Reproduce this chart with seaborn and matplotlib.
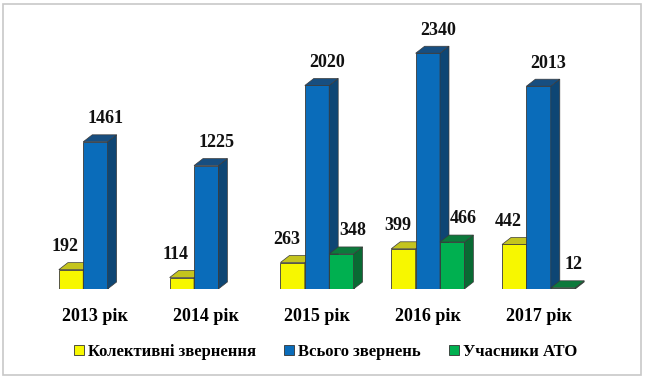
import pandas as pd
import matplotlib.pyplot as plt
import seaborn as sns
import numpy as np
from matplotlib.patches import Polygon, Patch, Rectangle
from matplotlib.colors import to_hex

# ---- data ----
years = ['2013 рік', '2014 рік', '2015 рік', '2016 рік', '2017 рік']
series = ['Колективні звернення', 'Всього звернень', 'Учасники АТО']
collective = [192, 114, 263, 399, 442]
total = [1461, 1225, 2020, 2340, 2013]
ato = [np.nan, np.nan, 348, 466, 12]

front = {'Колективні звернення': '#F7F700', 'Всього звернень': '#0A6CBA', 'Учасники АТО': '#00B050'}
top_c = {'Колективні звернення': '#C4C41E', 'Всього звернень': '#174E80', 'Учасники АТО': '#0C7A3C'}
side_c = {'Колективні звернення': '#A9A900', 'Всього звернень': '#0E4674', 'Учасники АТО': '#096A33'}

rows = []
for name, vals in zip(series, [collective, total, ato]):
    for y, v in zip(years, vals):
        rows.append({'year': y, 'series': name, 'value': v})
df = pd.DataFrame(rows).dropna()

plt.rcParams['font.family'] = ['Liberation Serif', 'DejaVu Serif']
plt.rcParams['font.weight'] = 'bold'

W, H = 645, 378
fig = plt.figure(figsize=(W / 100, H / 100), dpi=100)
ax_l, ax_b, ax_w, ax_h = 40 / W, (H - 289) / H, 554 / W, 269 / H
ax = fig.add_axes([ax_l, ax_b, ax_w, ax_h])

sns.barplot(data=df, x='year', y='value', hue='series', order=years, hue_order=series,
            palette=front, width=0.66, saturation=1, errorbar=None,
            edgecolor='#3a3a3a', linewidth=0.6, ax=ax)
ax.legend().remove()

ax.set_xlim(-0.5, 4.5)
ax.set_ylim(0, 2670)

# pixel -> data conversion for the 3D depth
px_x = 5 / 554
px_y = 2670 / 269
dx, dy = 9 * px_x, 7 * px_y
lab_off = {'Колективні звернення': -6 * px_x, 'Всього звернень': 10 * px_x, 'Учасники АТО': 11 * px_x}
zord = {'Колективні звернення': 2, 'Всього звернень': 3, 'Учасники АТО': 4}

def which_series(fc):
    h = to_hex(fc).lower()
    for k, c in front.items():
        if c.lower() == h:
            return k
    return None

for p in list(ax.patches):
    s = which_series(p.get_facecolor())
    hgt = p.get_height()
    if s is None or not np.isfinite(hgt) or hgt <= 0:
        continue
    x0, w = p.get_x(), p.get_width()
    x1 = x0 + w
    z = zord[s]
    p.set_zorder(z)
    top = Polygon([(x0, hgt), (x1, hgt), (x1 + dx, hgt + dy), (x0 + dx, hgt + dy)],
                  closed=True, facecolor=top_c[s], edgecolor='#3a3a3a', lw=0.5, zorder=z)
    side = Polygon([(x1, 0), (x1 + dx, dy), (x1 + dx, hgt + dy), (x1, hgt)],
                   closed=True, facecolor=side_c[s], edgecolor='#3a3a3a', lw=0.5, zorder=z)
    ax.add_patch(side)
    ax.add_patch(top)
    ax.text(x0 + w / 2 + lab_off[s], hgt + 230, f'{int(hgt)}', ha='center', va='center',
            fontsize=13, fontweight='bold', color='#111111', zorder=10)

sns.despine(ax=ax, left=True, bottom=True)
ax.set_yticks([])
ax.set_xlabel('')
ax.set_ylabel('')
ax.tick_params(axis='x', length=0, pad=14, labelsize=13)
for t in ax.get_xticklabels():
    t.set_fontweight('bold')
ax.patch.set_alpha(0)

handles = [Patch(facecolor=front[s], edgecolor='#333333', lw=0.6) for s in series]
fig.legend(handles, series, loc='center', bbox_to_anchor=(0.505, 0.069), ncol=3,
           frameon=False, handlelength=0.6, handleheight=0.6, handletextpad=0.25,
           columnspacing=1.7, prop={'size': 12, 'weight': 'bold'})

fig.patches.append(Rectangle((3 / W, 3 / H), 638 / W, 371 / H, transform=fig.transFigure,
                             fill=False, edgecolor='#C8C8C8', lw=1.2))

fig.savefig('out.png', dpi=100)
